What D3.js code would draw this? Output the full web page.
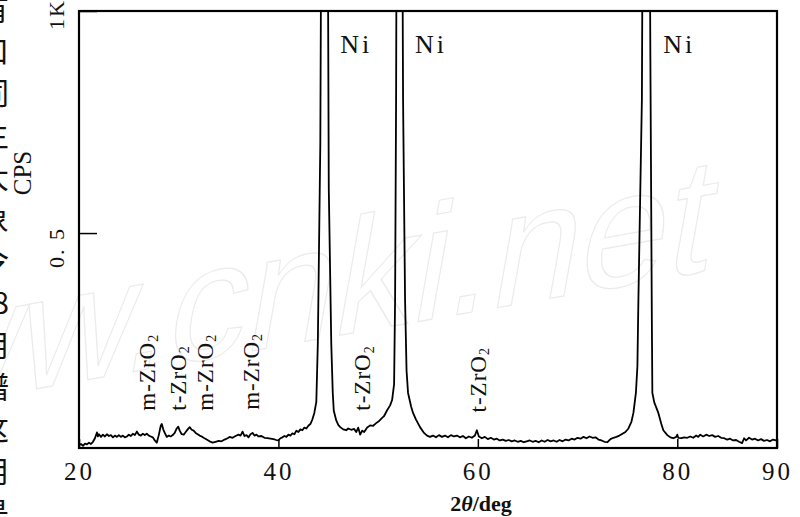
<!DOCTYPE html>
<html>
<head>
<meta charset="utf-8">
<script src="https://cdn.jsdelivr.net/npm/d3@7"></script>
<style>
  body { margin: 0; background: #fff; }
  svg { display: block; }
  .serif { font-family: "Liberation Serif", "DejaVu Serif", serif; fill: #111; }
</style>
</head>
<body>
<div id="xrd_plot"></div>
<script>
// 2theta (deg), intensity (CPS)
const xrd = [
  [20.0,22],[20.2,25],[20.4,21],[20.6,26],[20.8,24],[21.0,28],[21.2,25],[21.4,30],[21.6,38],[21.8,51],
  [21.9,42],[22.0,47],[22.2,41],[22.4,46],[22.6,42],[22.8,47],[23.0,43],[23.2,45],[23.4,40],[23.6,44],
  [23.8,41],[24.0,45],[24.2,41],[24.4,44],[24.6,40],[24.8,42],[25.0,46],[25.2,43],[25.4,48],[25.6,45],
  [25.8,53],[26.0,46],[26.2,44],[26.4,48],[26.6,45],[26.8,48],[27.0,44],[27.2,42],[27.4,40],[27.6,33],
  [27.8,28],[28.0,45],[28.2,66],[28.3,70],[28.45,58],[28.6,50],[28.8,41],[29.0,44],[29.2,42],[29.4,45],
  [29.6,50],[29.8,60],[29.95,64],[30.1,55],[30.3,47],[30.5,46],[30.7,52],[30.9,58],[31.1,63],[31.3,57],
  [31.5,55],[31.7,50],[31.9,47],[32.1,44],[32.3,42],[32.5,39],[32.8,35],[33.1,31],[33.4,28],[33.7,30],
  [34.0,32],[34.3,31],[34.6,35],[34.9,38],[35.1,41],[35.4,39],[35.7,43],[36.0,46],[36.2,44],[36.4,53],
  [36.6,43],[36.8,45],[37.0,40],[37.2,47],[37.4,50],[37.6,44],[37.8,46],[38.0,42],[38.3,43],[38.6,39],
  [38.9,38],[39.2,37],[39.5,36],[39.8,34],[40.0,33],[40.2,38],[40.4,40],[40.6,43],[40.8,41],[41.0,46],
  [41.2,44],[41.4,49],[41.6,47],[41.8,55],[42.0,52],[42.2,58],[42.4,56],[42.6,62],[42.8,60],[43.0,66],
  [43.2,70],[43.4,80],[43.6,95],[43.8,120],[43.95,250],[44.2,700],[44.35,1500],[44.5,3000],[44.75,3000],[44.9,1500],
  [45.05,600],[45.3,250],[45.45,140],[45.55,100],[45.8,78],[46.0,68],[46.2,63],[46.5,58],[46.8,56],[47.0,60],
  [47.3,57],[47.6,59],[47.8,52],[48.0,62],[48.2,46],[48.4,55],[48.6,52],[48.9,62],[49.2,67],[49.5,66],
  [49.8,72],[50.1,77],[50.4,84],[50.6,88],[50.9,101],[51.2,112],[51.4,124],[51.6,160],[51.7,350],[51.8,800],
  [51.9,1600],[52.0,3000],[52.2,3000],[52.35,1600],[52.5,800],[52.7,349],[52.85,190],[53.0,140],[53.3,110],[53.5,95],
  [53.8,80],[54.2,63],[54.6,50],[54.9,44],[55.2,41],[55.5,44],[55.8,40],[56.1,45],[56.4,41],[56.7,44],
  [57.0,40],[57.3,45],[57.6,42],[57.9,44],[58.2,40],[58.5,43],[58.8,38],[59.1,42],[59.4,39],[59.7,44],
  [59.9,56],[60.1,42],[60.4,38],[60.7,41],[61.0,36],[61.3,39],[61.6,35],[61.9,37],[62.2,33],[62.5,35],
  [62.8,32],[63.1,34],[63.4,31],[63.7,33],[64.0,30],[64.3,32],[64.6,29],[64.9,31],[65.2,33],[65.5,30],
  [65.8,32],[66.1,29],[66.4,33],[66.7,30],[67.0,34],[67.3,31],[67.6,33],[67.9,30],[68.2,34],[68.5,31],
  [68.8,35],[69.1,33],[69.4,37],[69.7,35],[70.0,39],[70.3,37],[70.6,41],[70.9,38],[71.2,42],[71.5,39],
  [71.8,40],[72.1,35],[72.4,33],[72.7,30],[73.0,29],[73.3,36],[73.6,39],[73.9,41],[74.2,44],[74.5,48],
  [74.8,52],[75.1,60],[75.4,75],[75.6,95],[75.85,140],[76.0,200],[76.1,350],[76.45,800],[76.6,1600],[76.8,3000],
  [77.0,3000],[77.15,1600],[77.3,900],[77.45,300],[77.5,140],[77.7,118],[78.1,95],[78.4,70],[78.6,56],[79.0,45],
  [79.3,40],[79.6,38],[79.9,41],[80.0,46],[80.1,39],[80.4,38],[80.7,40],[81.0,39],[81.3,42],[81.6,39],
  [81.9,44],[82.1,41],[82.3,46],[82.6,42],[82.9,46],[83.2,43],[83.5,45],[83.8,41],[84.1,43],[84.4,39],
  [84.7,38],[85.0,35],[85.3,37],[85.6,33],[85.9,34],[86.2,30],[86.5,27],[86.7,38],[86.9,33],[87.2,39],
  [87.5,35],[87.8,37],[88.1,33],[88.4,36],[88.7,32],[89.0,34],[89.3,31],[89.6,35],[89.9,33],[90.0,34]
];

const xTicks = [20, 40, 60, 80, 90];
const yTicks = [500, 1000];
const yTickLabels = ["0. 5", "1K"];

// peak annotations: label, 2theta position, intensity level of the text
const niPeaks = [
  { text: "Ni", at: 46.2, level: 905 },
  { text: "Ni", at: 53.7, level: 905 },
  { text: "Ni", at: 78.6, level: 905 }
];
const zrPeaks = [
  { text: "m-ZrO", at: 26.8, level: 100 },
  { text: "t-ZrO", at: 29.9, level: 100 },
  { text: "m-ZrO", at: 32.6, level: 100 },
  { text: "m-ZrO", at: 37.2, level: 102 },
  { text: "t-ZrO", at: 48.4, level: 100 },
  { text: "t-ZrO", at: 60.0, level: 96 }
];

// the cut-off column of the page text on the left edge
const sideChars = ["有", "口", "同", "主", "大", "象", "令", "8", "用", "譜", "这", "用", "是"];

const svgWidth = 800, svgHeight = 517;
const margin = { top: 11, left: 79, right: 23, bottom: 69 },
  width = svgWidth - margin.left - margin.right,
  height = svgHeight - margin.top - margin.bottom;

const svg = d3
  .select("#xrd_plot")
  .append("svg")
  .attr("width", svgWidth)
  .attr("height", svgHeight);

// watermark
svg
  .append("text")
  .attr("transform", "translate(-214,433) rotate(-10) skewX(-20)")
  .style("font-family", "Liberation Sans, Arial, sans-serif")
  .style("font-size", "160px")
  .style("font-weight", "300")
  .attr("fill", "none")
  .attr("stroke", "#ebebeb")
  .attr("stroke-width", 1.2)
  .text("www.cnki.net");

// side text
svg
  .append("g")
  .selectAll("text")
  .data(sideChars)
  .enter()
  .append("text")
  .attr("x", 9)
  .attr("y", (d, i) => 9 + i * 42)
  .attr("dy", "0.36em")
  .attr("text-anchor", "end")
  .style("font-family", "Noto Sans CJK SC")
  .style("font-size", "30px")
  .attr("fill", "#111")
  .text((d) => d);

const x = d3.scaleLinear().domain([20, 90]).range([margin.left, margin.left + width]);
const y = d3.scaleLinear().domain([16, 1000]).range([margin.top + height, margin.top]);

svg
  .append("clipPath")
  .attr("id", "plotClip")
  .append("rect")
  .attr("x", margin.left)
  .attr("y", margin.top)
  .attr("width", width)
  .attr("height", height);

const line = d3
  .line()
  .x((d) => x(d[0]))
  .y((d) => y(d[1]));

svg
  .append("path")
  .datum(xrd)
  .attr("clip-path", "url(#plotClip)")
  .attr("d", line)
  .attr("fill", "none")
  .attr("stroke", "#000")
  .attr("stroke-width", 1.8)
  .attr("stroke-linejoin", "round");

// x axis, ticks point inwards
const xAxis = d3
  .axisBottom(x)
  .tickValues(xTicks)
  .tickSize(-9)
  .tickPadding(14)
  .tickFormat(d3.format("d"));
const xAxisG = svg
  .append("g")
  .attr("transform", "translate(0," + (margin.top + height) + ")")
  .call(xAxis);
xAxisG.select(".domain").remove();
xAxisG.selectAll("line").attr("stroke", "#000").attr("stroke-width", 1.5);
xAxisG
  .selectAll("text")
  .attr("class", "serif")
  .style("font-size", "25px")
  .style("letter-spacing", "3px")
  .attr("fill", "#111");

// y axis
const yAxis = d3.axisLeft(y).tickValues(yTicks).tickSize(-18).tickFormat((d, i) => yTickLabels[i]);
const yAxisG = svg.append("g").attr("transform", "translate(" + margin.left + ",0)").call(yAxis);
yAxisG.select(".domain").remove();
yAxisG.selectAll("line").attr("stroke", "#000").attr("stroke-width", 1.5);
yAxisG
  .selectAll("text")
  .attr("class", "serif")
  .attr("x", null)
  .attr("dy", null)
  .attr("text-anchor", "middle")
  .attr("transform", (d) => "translate(-15," + (d === 500 ? 14 : 3) + ") rotate(-90)")
  .style("font-size", "22px")
  .style("letter-spacing", "2px")
  .attr("fill", "#111");

svg
  .append("text")
  .attr("class", "serif")
  .attr("transform", "translate(31,173) rotate(-90)")
  .attr("text-anchor", "middle")
  .style("font-size", "25px")
  .text("CPS");

// frame
svg
  .append("rect")
  .attr("x", margin.left)
  .attr("y", margin.top)
  .attr("width", width)
  .attr("height", height)
  .attr("fill", "none")
  .attr("stroke", "#000")
  .attr("stroke-width", 2.2);

// x label
const xLabel = svg
  .append("text")
  .attr("class", "serif")
  .attr("x", 481)
  .attr("y", 511)
  .attr("text-anchor", "middle")
  .style("font-size", "22px")
  .style("font-weight", "bold");
xLabel.append("tspan").text("2");
xLabel.append("tspan").style("font-style", "italic").text("θ");
xLabel.append("tspan").text("/deg");

// Ni labels
svg
  .selectAll(".niLabel")
  .data(niPeaks)
  .enter()
  .append("text")
  .attr("class", "serif niLabel")
  .attr("x", (d) => x(d.at))
  .attr("y", (d) => y(d.level))
  .style("font-size", "26px")
  .style("letter-spacing", "3px")
  .text((d) => d.text);

// ZrO2 labels, written bottom to top
const zr = svg
  .selectAll(".zrLabel")
  .data(zrPeaks)
  .enter()
  .append("text")
  .attr("class", "serif zrLabel")
  .attr("transform", (d) => "translate(" + x(d.at) + "," + y(d.level) + ") rotate(-90)")
  .attr("dy", "0.35em")
  .style("font-size", "23px")
  .style("letter-spacing", "1px");
zr.append("tspan").text((d) => d.text);
zr.append("tspan").attr("dy", "0.25em").style("font-size", "14px").text("2");
</script>
</body>
</html>
